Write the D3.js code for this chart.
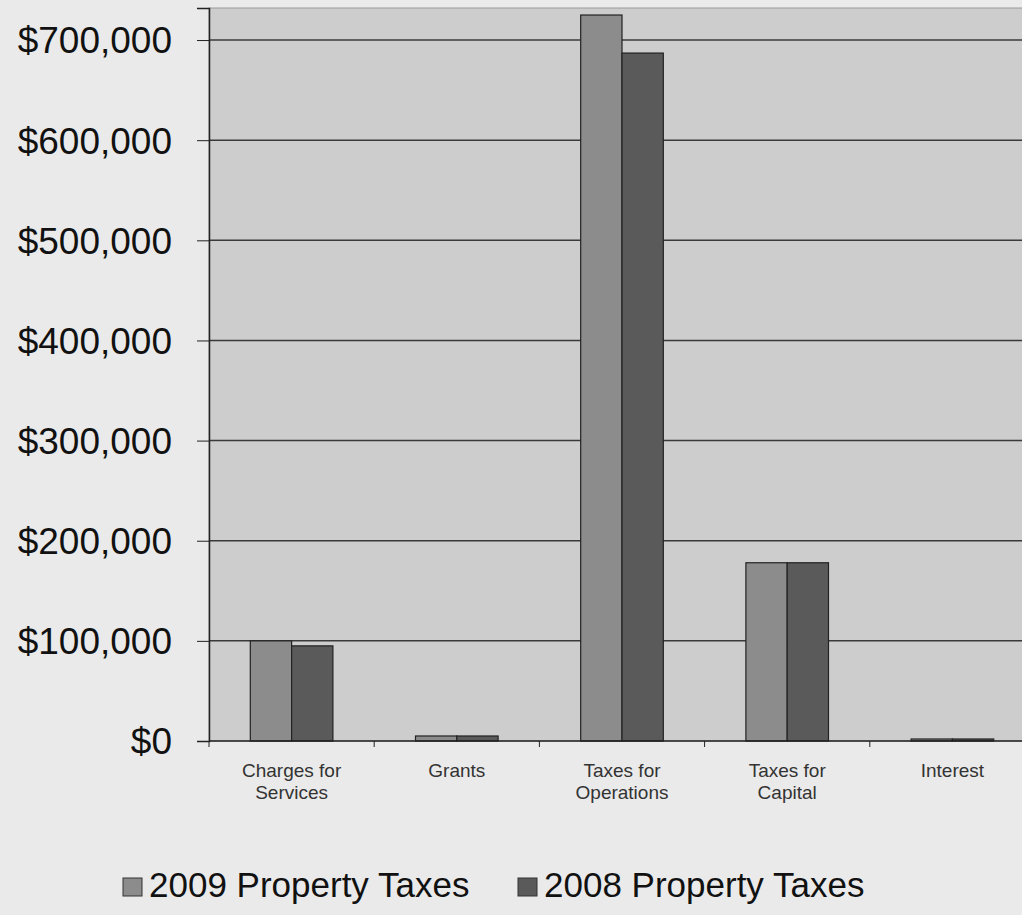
<!DOCTYPE html>
<html>
<head>
<meta charset="utf-8">
<script src="https://cdn.jsdelivr.net/npm/d3@7"></script>
<style>
  html, body { margin: 0; padding: 0; background: #eaeaea; }
  svg { display: block; font-family: "Liberation Sans", Arial, sans-serif; }
</style>
</head>
<body>
<div id="chart"></div>
<script>
// Chart data
const categories = ['Charges for|Services', 'Grants', 'Taxes for|Operations', 'Taxes for|Capital', 'Interest'];
const series = ['2009 Property Taxes', '2008 Property Taxes'];
const values2009 = [100000, 5000, 725000, 178000, 2000];
const values2008 = [95000, 5000, 687000, 178000, 2000];
const yTicks = [0, 100000, 200000, 300000, 400000, 500000, 600000, 700000];

const W = 1022, H = 915;
const margin = { top: 8, right: -13, bottom: 174, left: 209 };
const w = W - margin.left - margin.right;
const h = H - margin.top - margin.bottom;

const svg = d3.select('#chart').append('svg')
  .attr('width', W).attr('height', H);

const g = svg.append('g').attr('transform', `translate(${margin.left},${margin.top})`);

const x = d3.scaleBand().domain(categories).range([0, w]).paddingInner(0.5).paddingOuter(0.25);
const x1 = d3.scaleBand().domain(series).range([0, x.bandwidth()]);
const y = d3.scaleLinear().domain([0, 732000]).range([h, 0]);
const colors = { '2009 Property Taxes': '#8c8c8c', '2008 Property Taxes': '#5a5a5a' };

// plot background
g.append('rect').attr('x', 0).attr('y', 0).attr('width', w).attr('height', h)
  .attr('fill', '#cdcdcd').attr('stroke', '#999');

// gridlines
g.selectAll('.grid').data(yTicks.slice(1)).enter().append('line')
  .attr('x1', 0).attr('x2', w)
  .attr('y1', d => y(d)).attr('y2', d => y(d))
  .attr('stroke', '#3a3a3a').attr('stroke-width', 1.5);

// bars
const rows = categories.map((c, i) => ({ cat: c, vals: [values2009[i], values2008[i]] }));
const grp = g.selectAll('.grp').data(rows).enter().append('g')
  .attr('transform', d => `translate(${x(d.cat)},0)`);
grp.selectAll('rect').data(d => series.map((s, j) => ({ s, v: d.vals[j] }))).enter().append('rect')
  .attr('x', d => x1(d.s))
  .attr('y', d => y(d.v))
  .attr('width', x1.bandwidth())
  .attr('height', d => h - y(d.v))
  .attr('fill', d => colors[d.s])
  .attr('stroke', '#222').attr('stroke-width', 1.2);

// y axis
const yAxis = g.append('g')
  .call(d3.axisLeft(y).tickValues(yTicks).tickSize(12).tickPadding(25)
    .tickFormat(d => '$' + d3.format(',')(d)));
yAxis.select('.domain').attr('stroke', '#222').attr('stroke-width', 1.5);
yAxis.selectAll('line').attr('stroke', '#222');
yAxis.selectAll('text').attr('font-size', 37).attr('fill', '#111')
  .attr('dy', '0.35em').attr('font-family', '"Liberation Sans", Arial, sans-serif');

// x axis
const xBound = d3.scaleLinear().domain([0, categories.length]).range([0, w]);
g.append('line').attr('x1', 0).attr('x2', w).attr('y1', h).attr('y2', h)
  .attr('stroke', '#222').attr('stroke-width', 1.5);
g.selectAll('.xtick').data(d3.range(categories.length + 1)).enter().append('line')
  .attr('x1', d => xBound(d)).attr('x2', d => xBound(d))
  .attr('y1', h).attr('y2', h + 6).attr('stroke', '#222');

const labels = g.selectAll('.xlabel').data(categories).enter().append('text')
  .attr('text-anchor', 'middle')
  .attr('font-size', 19).attr('fill', '#333')
  .attr('transform', d => `translate(${x(d) + x.bandwidth() / 2},${h + 36})`);
labels.selectAll('tspan').data(d => d.split('|')).enter().append('tspan')
  .attr('x', 0).attr('dy', (d, i) => i === 0 ? 0 : 22).text(d => d);

// legend
const legend = svg.append('g').attr('transform', 'translate(123,897)');
const legendX = [0, 395];
series.forEach((s, i) => {
  const lg = legend.append('g').attr('transform', `translate(${legendX[i]},0)`);
  lg.append('rect').attr('x', 0).attr('y', -19).attr('width', 19).attr('height', 18)
    .attr('fill', colors[s]).attr('stroke', '#333');
  lg.append('text').attr('x', 26).attr('y', 0).attr('font-size', 35).attr('fill', '#111').text(s);
});
</script>
</body>
</html>
